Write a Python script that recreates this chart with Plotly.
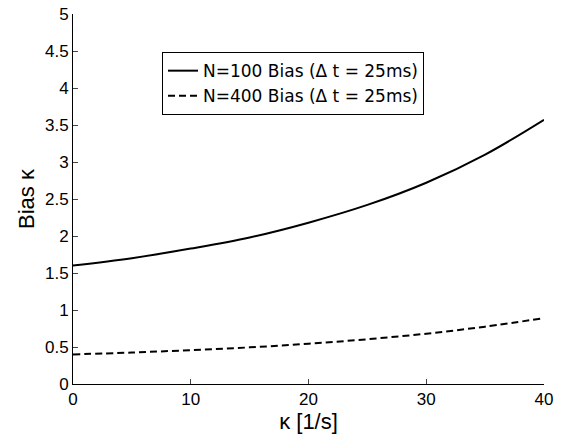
import plotly.graph_objects as go

kappa = [0, 5, 10, 15, 20, 25, 30, 35, 40]
bias_n100 = [1.60, 1.70, 1.83, 1.98, 2.18, 2.42, 2.72, 3.10, 3.57]
bias_n400 = [0.40, 0.425, 0.458, 0.495, 0.545, 0.605, 0.68, 0.775, 0.89]
x_ticks = [0, 10, 20, 30, 40]
y_ticks = [0, 0.5, 1, 1.5, 2, 2.5, 3, 3.5, 4, 4.5, 5]
y_tick_labels = ["0", "0.5", "1", "1.5", "2", "2.5", "3", "3.5", "4", "4.5", "5"]

fig = go.Figure()
fig.add_trace(go.Scatter(x=kappa, y=bias_n100, mode="lines", line_shape="spline",
                         name="N=100 Bias (Δ t = 25ms)",
                         line=dict(color="black", width=2)))
fig.add_trace(go.Scatter(x=kappa, y=bias_n400, mode="lines", line_shape="spline",
                         name="N=400 Bias (Δ t = 25ms)",
                         line=dict(color="black", width=2, dash="7px,4px")))

font_family = "Liberation Sans, Arial, Helvetica, sans-serif"
fig.update_layout(
    width=562, height=435,
    margin=dict(l=73, r=18, t=14, b=51, autoexpand=False),
    paper_bgcolor="white", plot_bgcolor="white",
    font=dict(family=font_family, color="black", size=17),
    showlegend=True,
    legend=dict(x=0.189, y=0.897, xanchor="left", yanchor="top",
                bordercolor="black", borderwidth=1, bgcolor="white",
                font=dict(size=17, family="DejaVu Sans, sans-serif"),
                tracegroupgap=0, itemwidth=30),
    xaxis=dict(range=[0, 40], tickvals=x_ticks, ticks="inside", ticklen=5,
               showline=True, linecolor="black", linewidth=1, showgrid=False,
               zeroline=False, mirror=False, tickfont=dict(size=17),
               automargin=False,
               title=dict(text="κ [1/s]", font=dict(size=22), standoff=2)),
    yaxis=dict(range=[0, 5], tickvals=y_ticks, ticktext=y_tick_labels,
               ticks="inside", ticklen=5,
               showline=True, linecolor="black", linewidth=1, showgrid=False,
               zeroline=False, mirror=False, tickfont=dict(size=17),
               automargin=False,
               title=dict(text="Bias κ", font=dict(size=22), standoff=4)),
)

fig.write_html("out.html", config={"displayModeBar": False},
               post_script="document.body.style.margin='0';")
